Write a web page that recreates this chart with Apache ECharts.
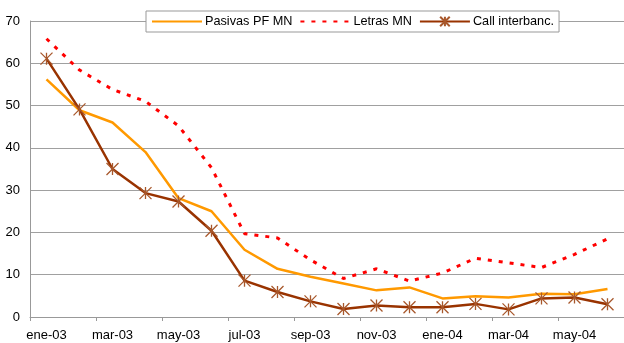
<!DOCTYPE html>
<html>
<head>
<meta charset="utf-8">
<script src="https://cdn.jsdelivr.net/npm/echarts@6/dist/echarts.min.js"></script>
<style>html,body{margin:0;padding:0;background:#fff}#c{width:624px;height:343px}</style>
</head>
<body>
<div id="c"></div>
<script>
var categories = ['ene-03','feb-03','mar-03','abr-03','may-03','jun-03','jul-03','ago-03','sep-03','oct-03','nov-03','dic-03','ene-04','feb-04','mar-04','abr-04','may-04','jun-04'];
var pasivas = [56.2, 48.9, 46.0, 39.0, 28.1, 25.0, 15.9, 11.4, 9.5, 7.9, 6.3, 7.0, 4.4, 4.9, 4.6, 5.5, 5.4, 6.6];
var letras  = [65.8, 58.4, 53.8, 51.0, 45.2, 35.3, 19.7, 18.7, 13.5, 9.1, 11.4, 8.5, 10.4, 13.9, 12.8, 11.7, 14.8, 18.5];
var call    = [61.1, 49.1, 35.0, 29.3, 27.3, 20.4, 8.6, 5.9, 3.7, 1.9, 2.7, 2.3, 2.3, 3.1, 1.8, 4.4, 4.6, 3.0];
var yTicks = [0, 10, 20, 30, 40, 50, 60, 70];

var font = 'Liberation Sans, Arial, sans-serif';
var chart = echarts.init(document.getElementById('c'), null, {renderer: 'canvas'});
var star = 'path://M0,0L10,10M10,0L0,10M5,0L5,10';
chart.setOption({
  animation: false,
  backgroundColor: '#fff',
  grid: {left: 30, right: 0, top: 21, bottom: 26, containLabel: false},
  legend: {
    left: 146, top: 11,
    padding: [4, 5, 4, 5],
    itemGap: 7,
    itemWidth: 50, itemHeight: 12,
    backgroundColor: '#fff',
    borderColor: '#999', borderWidth: 1,
    textStyle: {fontFamily: font, fontSize: 12.7, color: '#000', padding: [0, 0, 0, -2]},
    data: [
      {name: 'Pasivas PF MN', itemStyle: {opacity: 0}},
      {name: 'Letras MN', itemStyle: {opacity: 0}},
      {name: 'Call interbanc.'}
    ]
  },
  xAxis: {
    type: 'category', data: categories, boundaryGap: true,
    axisLine: {lineStyle: {color: '#999', width: 1}},
    axisTick: {show: true, interval: 1, length: 4, lineStyle: {color: '#999'}},
    axisLabel: {interval: 1, margin: 12, fontFamily: font, fontSize: 13, color: '#000'}
  },
  yAxis: {
    type: 'value', min: yTicks[0], max: yTicks[yTicks.length - 1], interval: 10,
    axisLine: {show: true, lineStyle: {color: '#999', width: 1}},
    axisTick: {show: false},
    splitLine: {lineStyle: {color: '#a0a0a0', width: 1}},
    axisLabel: {margin: 10, fontFamily: font, fontSize: 13, color: '#000'}
  },
  series: [
    {name: 'Pasivas PF MN', type: 'line', data: pasivas, symbol: 'none', z: 2,
     lineStyle: {color: '#FF9900', width: 2.5}, itemStyle: {color: '#FF9900'}},
    {name: 'Letras MN', type: 'line', data: letras, symbol: 'none', z: 3,
     lineStyle: {color: '#FF0000', width: 3, type: [4, 7]}, itemStyle: {color: '#FF0000'}},
    {name: 'Call interbanc.', type: 'line', data: call, symbol: star, symbolSize: 12, z: 4,
     lineStyle: {color: '#993300', width: 2.5},
     itemStyle: {color: 'rgba(0,0,0,0)', borderColor: '#a8582c', borderWidth: 1.3}}
  ]
});
</script>
</body>
</html>
